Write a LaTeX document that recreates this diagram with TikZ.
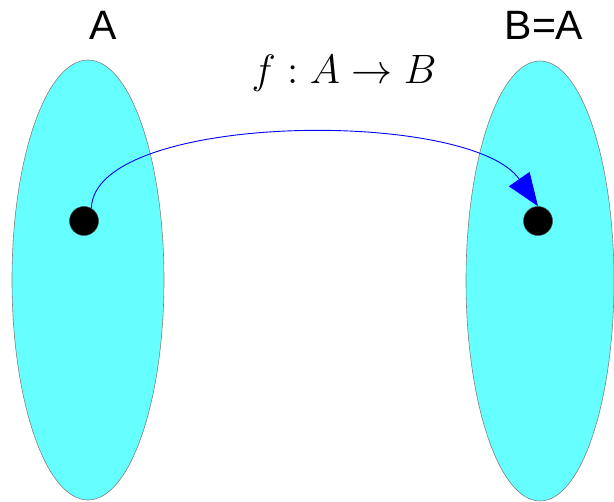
\documentclass[tikz,border=0pt]{standalone}
\usepackage{amsmath, amssymb}
\usepackage{fontspec}
\usepackage{tikz}
\usetikzlibrary{arrows.meta, positioning, shapes.geometric}
\newfontfamily\labelfont{Liberation Sans}
\definecolor{setcyan}{RGB}{102, 255, 255}
\definecolor{setedge}{RGB}{128, 128, 128}
\definecolor{mapblue}{RGB}{0, 0, 255}

\begin{document}
\begin{tikzpicture}[
    x=1pt, y=-1pt,
    setbox/.style={ellipse, draw=setedge, fill=setcyan, line width=0.6pt, minimum width=152pt, minimum height=440pt, inner sep=0pt},
    elem/.style={circle, fill=black, draw=black!70, line width=0.5pt, minimum size=29pt, inner sep=0pt},
    setname/.style={font=\labelfont\fontsize{41}{41}\selectfont, inner sep=0pt},
    maparr/.style={-{Triangle[length=33pt, width=25pt]}, color=mapblue, line width=0.9pt}
]
\useasboundingbox (0,0) rectangle (614,502);

% Sets
\node[setbox] (setA) at (88,280) {};
\node[setbox, minimum width=148pt] (setB) at (540,281) {};

% Elements
\node[elem] (x) at (84,221) {};
\node[elem] (y) at (538,221) {};

% Set names
\node[setname] (nameA) at (103,25) {A};
\node[setname] (nameB) at (544,25) {B=A};

% Map label
\node[font=\Large, scale=2.85, inner sep=0pt] (fmap) at (344,73) {$f : A \to B$};

% Map arrow
\draw[maparr] (x.60) .. controls (94,112) and (470,108) .. (y.north);

\end{tikzpicture}
\end{document}
